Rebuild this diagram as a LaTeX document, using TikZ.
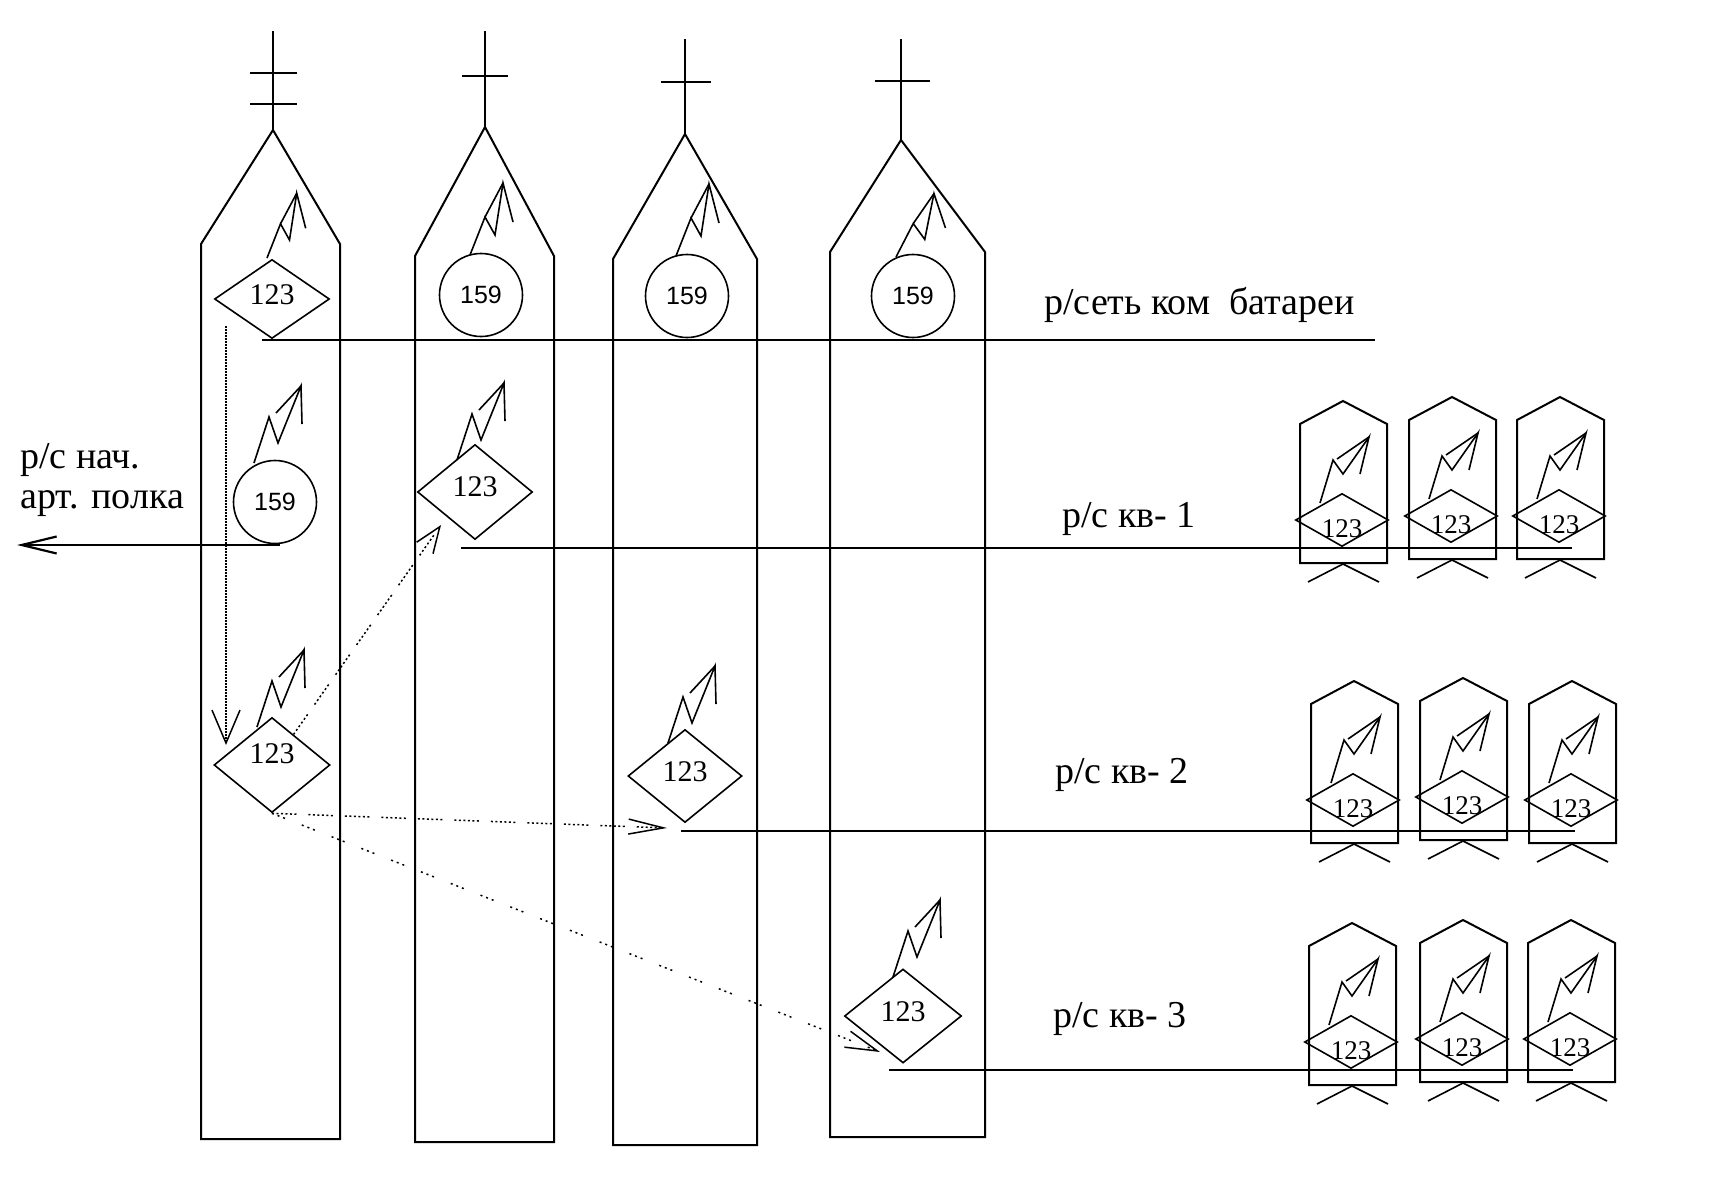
\documentclass[tikz,border=0pt]{standalone}
\usepackage{fontspec}
\setmainfont{Liberation Serif}
\setsansfont{Liberation Sans}
\usetikzlibrary{shapes.geometric,arrows.meta}

\newcommand{\lifted}[2]{\smash{\raisebox{#1}{#2}}}

\tikzset{
  wall/.style={draw, line width=2pt, line join=miter},
  net/.style={line width=2.2pt},
  flashline/.style={line width=1.6pt},
  bigdiamond/.style={diamond, draw, line width=1.6pt, aspect=1.5, inner sep=0pt, font=\fontsize{30}{30}\selectfont},
  smalldiamond/.style={diamond, draw, line width=1.6pt, aspect=2, inner sep=0pt, minimum width=93pt, minimum height=53pt, font=\fontsize{27}{27}\selectfont},
  station/.style={circle, draw, line width=1.6pt, inner sep=0pt, minimum size=83pt, font=\sffamily\fontsize{25}{25}\selectfont},
  caption/.style={anchor=base west, inner sep=0pt, font=\fontsize{38}{38}\selectfont},
  densedots/.style={line width=1.5pt, dash pattern=on 1.5pt off 1.5pt},
  sparsedots/.style={line width=1.5pt, dash pattern=on 2pt off 2.5pt on 2pt off 2.5pt on 2pt off 2.5pt on 2pt off 2.5pt on 2pt off 2.5pt on 2pt off 12pt},
  thindots/.style={line width=1.5pt, dash pattern=on 2pt off 4pt on 2pt off 4pt on 2pt off 18pt},
  pics/narrowflash/.style={code={
    \draw[flashline] (0,0) -- (15,-38) -- (25,-20) -- (33,-72) -- (43,-33);
    \draw[flashline] (33,-72) -- (15,-38);
  }},
  pics/wideflash/.style={code={
    \draw[flashline] (0,0) -- (15,-46) -- (24,-20) -- (47,-77) -- (48,-39);
    \draw[flashline] (47,-77) -- (22,-50);
  }},
  pics/unit/.style={code={
    \draw[wall] (-43,23) -- (0,0) -- (44,23) -- (44,162) -- (-43,162) -- cycle;
    \draw[flashline] (0,163) -- (-35,181);
    \draw[flashline] (0,163) -- (36,181);
    \node[smalldiamond] (-d) at (-1,119) {\lifted{-17pt}{123}};
    \draw[flashline] (-23,102) -- (-10,59) -- (0,73) -- (26,36) -- (17,73);
    \draw[flashline] (26,36) -- (-6,58);
  }},
}

\begin{document}
\begin{tikzpicture}[x=1pt, y=-1pt]
  \useasboundingbox (0,0) rectangle (1709,1191);

  % towers
  \draw[wall] (201,1139) -- (201,244) -- (273,130) -- (340,244) -- (340,1139) -- cycle;
  \draw[wall] (415,1142) -- (415,256) -- (485,127) -- (554,256) -- (554,1142) -- cycle;
  \draw[wall] (613,1145) -- (613,259) -- (685,134) -- (757,259) -- (757,1145) -- cycle;
  \draw[wall] (830,1137) -- (830,252) -- (901,140) -- (985,252) -- (985,1137) -- cycle;

  % masts
  \draw[wall] (273,130) -- (273,31);
  \draw[wall] (250,73) -- (297,73);
  \draw[wall] (250,104) -- (297,104);
  \draw[wall] (485,127) -- (485,31);
  \draw[wall] (462,76) -- (508,76);
  \draw[wall] (685,134) -- (685,39);
  \draw[wall] (661,82) -- (711,82);
  \draw[wall] (901,140) -- (901,39);
  \draw[wall] (875,81) -- (930,81);

  % stations
  \node[bigdiamond, minimum width=115pt, minimum height=79pt] (d1) at (272,299) {\lifted{-5.5pt}{123}};
  \node[station] (c1) at (481,295) {159};
  \node[station] (c2) at (687,296) {159};
  \node[station] (c3) at (913,296) {159};
  \node[station] (c4) at (275,502) {159};
  \node[bigdiamond, minimum width=115pt, minimum height=95pt] (d2) at (475,492) {\lifted{-4pt}{123}};
  \node[bigdiamond, minimum width=116pt, minimum height=95pt] (d3) at (272,765) {\lifted{1.5pt}{123}};
  \node[bigdiamond, minimum width=114pt, minimum height=93pt] (d4) at (685,776) {\lifted{-5pt}{123}};
  \node[bigdiamond, minimum width=117pt, minimum height=94pt] (d5) at (903,1016) {\lifted{-5pt}{123}};

  \pic[scale=0.9] at (267,258) {narrowflash};
  \pic at (470,255) {narrowflash};
  \pic at (676,256) {narrowflash};
  \pic[xscale=1.15, yscale=0.88] at (896,257) {narrowflash};
  \pic at (254,463) {wideflash};
  \pic at (457,460) {wideflash};
  \pic at (257,727) {wideflash};
  \pic at (668,743) {wideflash};
  \pic at (893,977) {wideflash};

  % sets of the platoons
  \foreach \ux/\uy/\un in {1343/401/a1, 1452/397/a2, 1560/397/a3, 1354/681/b1, 1463/678/b2, 1572/681/b3, 1352/923/e1, 1463/920/e2, 1571/920/e3}
    \pic (\un) at (\ux,\uy) {unit};

  % captions
  \node[caption] (capnet) at (1044,314) {р/сеть ком~ батареи};
  \node[caption] (capa) at (20,468) {р/с нач.};
  \node[caption] (capb) at (20,508) {арт. полка};
  \node[caption] (capq1) at (1062,527) {р/с кв- 1};
  \node[caption] (capq2) at (1055,783) {р/с кв- 2};
  \node[caption] (capq3) at (1053,1027) {р/с кв- 3};

  % radio nets
  \coordinate (netw) at (262,340);
  \coordinate (nete) at (1375,340);
  \coordinate (q1w) at (461,548);
  \coordinate (q1e) at (1572,548);
  \coordinate (q2w) at (681,831);
  \coordinate (q2e) at (1575,831);
  \coordinate (q3w) at (889,1070);
  \coordinate (q3e) at (1573,1070);
  \coordinate (regw) at (17,545);
  \coordinate (rege) at (280,545);
  \draw[net] (netw) -- (nete);
  \draw[net] (q1w) -- (q1e);
  \draw[net] (q2w) -- (q2e);
  \draw[net] (q3w) -- (q3e);
  \draw[net, -{Straight Barb[length=35pt, width=17pt]}] (rege) -- (regw);

  % orders
  \coordinate (ordstart) at (226,326);
  \coordinate (ordtip) at (226,745);
  \coordinate (tipa) at (441,525);
  \coordinate (tipb) at (667,828);
  \coordinate (tipc) at (880,1052);
  \draw[densedots, -{Straight Barb[length=33pt, width=28pt]}] (ordstart) -- (ordtip);
  \draw[sparsedots, -{Straight Barb[length=26pt, width=20pt]}] (d3) -- (tipa);
  \draw[sparsedots, -{Straight Barb[length=35pt, width=15pt]}] (d3.south) -- (tipb);
  \draw[thindots, -{Straight Barb[length=32pt, width=17pt]}] (d3.south) -- (tipc);
\end{tikzpicture}
\end{document}
